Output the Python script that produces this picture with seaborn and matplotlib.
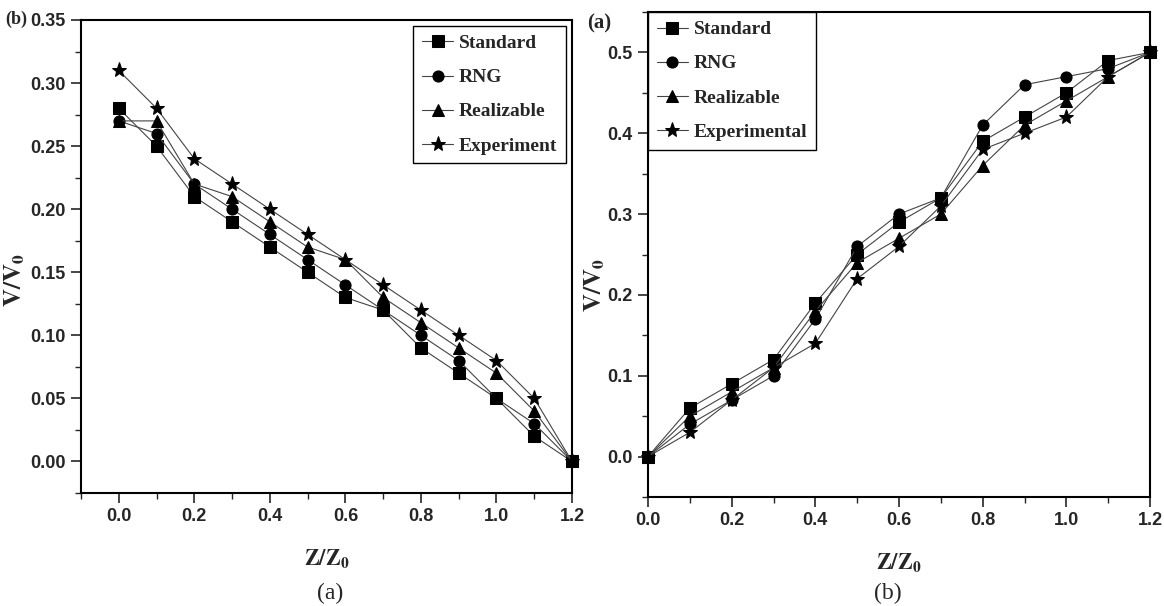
import matplotlib
matplotlib.use('Agg')
import matplotlib.pyplot as plt
import seaborn as sns
import pandas as pd
from matplotlib.ticker import MultipleLocator

# data
z = [0.0, 0.1, 0.2, 0.3, 0.4, 0.5, 0.6, 0.7, 0.8, 0.9, 1.0, 1.1, 1.2]

# left panel, labelled (b)
left_standard = [0.28, 0.25, 0.21, 0.19, 0.17, 0.15, 0.13, 0.12, 0.09, 0.07, 0.05, 0.02, 0.00]
left_rng = [0.27, 0.26, 0.22, 0.20, 0.18, 0.16, 0.14, 0.12, 0.10, 0.08, 0.05, 0.03, 0.00]
left_realizable = [0.27, 0.27, 0.22, 0.21, 0.19, 0.17, 0.16, 0.13, 0.11, 0.09, 0.07, 0.04, 0.00]
left_experiment = [0.31, 0.28, 0.24, 0.22, 0.20, 0.18, 0.16, 0.14, 0.12, 0.10, 0.08, 0.05, 0.00]

# right panel, labelled (a)
right_standard = [0.00, 0.06, 0.09, 0.12, 0.19, 0.25, 0.29, 0.32, 0.39, 0.42, 0.45, 0.49, 0.50]
right_rng = [0.00, 0.04, 0.07, 0.10, 0.17, 0.26, 0.30, 0.32, 0.41, 0.46, 0.47, 0.48, 0.50]
right_realizable = [0.00, 0.05, 0.08, 0.11, 0.18, 0.24, 0.27, 0.30, 0.36, 0.41, 0.44, 0.47, 0.50]
right_experimental = [0.00, 0.03, 0.07, 0.11, 0.14, 0.22, 0.26, 0.31, 0.38, 0.40, 0.42, 0.47, 0.50]

sns.set_style('ticks')
plt.rcParams['font.family'] = ['Liberation Sans', 'DejaVu Sans']
plt.rcParams['mathtext.fontset'] = 'stix'

markers = {'Standard': 's', 'RNG': 'o', 'Realizable': '^', 'Experiment': '*', 'Experimental': '*'}
sizes = {'s': 8, 'o': 8, '^': 9, '*': 11}

fig = plt.figure(figsize=(11.64, 6.06), dpi=100)
ax1 = fig.add_axes([81 / 1164, 1 - 493 / 606, 491 / 1164, 473 / 606])
ax2 = fig.add_axes([648 / 1164, 1 - 497 / 606, 502 / 1164, 485 / 606])


def draw(ax, series):
    for name, vals in series:
        df = pd.DataFrame({'z': z, 'v': vals})
        m = markers[name]
        sns.lineplot(data=df, x='z', y='v', ax=ax, color='#444444', linewidth=0.8,
                     marker=m, markersize=sizes[m], markerfacecolor='black',
                     markeredgecolor='black', label=name, clip_on=False)


draw(ax1, [('Standard', left_standard), ('RNG', left_rng),
           ('Realizable', left_realizable), ('Experiment', left_experiment)])
draw(ax2, [('Standard', right_standard), ('RNG', right_rng),
           ('Realizable', right_realizable), ('Experimental', right_experimental)])

ax1.set_xlim(-0.1, 1.2)
ax1.set_ylim(-0.025, 0.35)
ax1.xaxis.set_minor_locator(MultipleLocator(0.1))
ax1.yaxis.set_minor_locator(MultipleLocator(0.025))
ax1.set_xticks([0.0, 0.2, 0.4, 0.6, 0.8, 1.0, 1.2])
ax1.set_xticklabels(['0.0', '0.2', '0.4', '0.6', '0.8', '1.0', '1.2'])
ax1.set_yticks([0.0, 0.05, 0.10, 0.15, 0.20, 0.25, 0.30, 0.35])
ax1.set_yticklabels(['0.00', '0.05', '0.10', '0.15', '0.20', '0.25', '0.30', '0.35'])

ax2.set_xlim(0.0, 1.2)
ax2.set_ylim(-0.05, 0.55)
ax2.xaxis.set_minor_locator(MultipleLocator(0.1))
ax2.yaxis.set_minor_locator(MultipleLocator(0.05))
ax2.set_xticks([0.0, 0.2, 0.4, 0.6, 0.8, 1.0, 1.2])
ax2.set_xticklabels(['0.0', '0.2', '0.4', '0.6', '0.8', '1.0', '1.2'])
ax2.set_yticks([0.0, 0.1, 0.2, 0.3, 0.4, 0.5])
ax2.set_yticklabels(['0.0', '0.1', '0.2', '0.3', '0.4', '0.5'])

for ax in (ax1, ax2):
    for sp in ax.spines.values():
        sp.set_visible(True)
        sp.set_linewidth(1.5)
        sp.set_color('black')
    ax.tick_params(which='major', direction='out', length=7, width=1.2,
                   labelsize=13, top=False, right=False, pad=4)
    ax.tick_params(which='minor', direction='out', length=4, width=1.0,
                   top=False, right=False)
    for lab in ax.get_xticklabels() + ax.get_yticklabels():
        lab.set_fontweight('bold')
    ax.set_xlabel(r'$\mathbf{Z/Z_0}$', fontsize=16, labelpad=16)
    ax.set_ylabel(r'$\mathbf{V/V_0}$', fontsize=18)

# place the y labels where the reference has them (x is the label's right edge)
ax1.yaxis.set_label_coords((27 - 81) / 491, (493 - 280) / 473)
ax2.yaxis.set_label_coords((607 - 648) / 502, (497 - 285) / 485)

leg_font = {'family': 'Liberation Serif', 'weight': 'bold', 'size': 14}
l1 = ax1.legend(loc='upper right', prop=leg_font, frameon=True, fancybox=False,
                edgecolor='black', handlelength=1.6, handletextpad=0.3,
                borderaxespad=0.3, labelspacing=0.85, borderpad=0.45)
l2 = ax2.legend(loc='upper left', prop=leg_font, frameon=True, fancybox=False,
                edgecolor='black', handlelength=1.6, handletextpad=0.3,
                borderaxespad=0.0, labelspacing=0.85, borderpad=0.45)
for leg in (l1, l2):
    leg.get_frame().set_linewidth(1.0)
    leg.get_frame().set_alpha(1)

fig.text(5 / 1164, 1 - 19 / 606, '(b)', family='Liberation Serif', weight='bold',
         fontsize=13, va='center', ha='left')
fig.text(587 / 1164, 1 - 23 / 606, '(a)', family='Liberation Serif', weight='bold',
         fontsize=15, va='center', ha='left')
fig.text(330 / 1164, 1 - 593 / 606, '(a)', family='Liberation Serif', fontsize=17,
         va='center', ha='center')
fig.text(888 / 1164, 1 - 593 / 606, '(b)', family='Liberation Serif', fontsize=17,
         va='center', ha='center')

fig.savefig('out.png', dpi=100)
